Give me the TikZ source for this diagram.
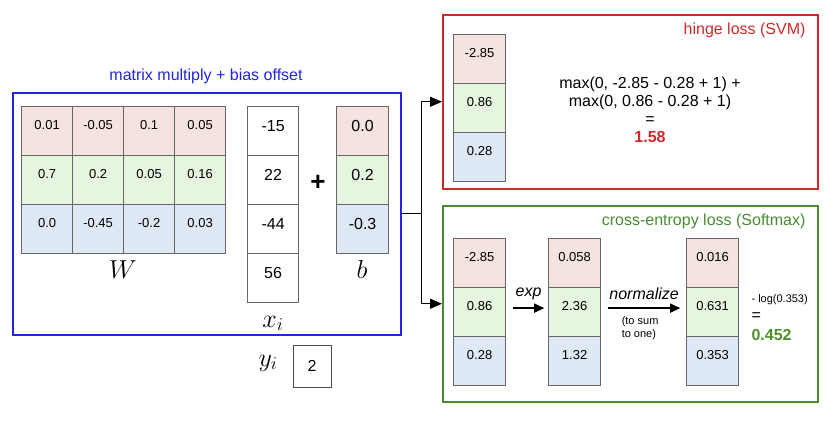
\RequirePackage{fix-cm}
\documentclass[tikz,border=0pt]{standalone}
\usepackage{fontspec}
\setmainfont{Liberation Sans}
\usetikzlibrary{matrix,positioning,arrows.meta}

\definecolor{rowred}{HTML}{F4E3DE}
\definecolor{rowgreen}{HTML}{E6F5DF}
\definecolor{rowblue}{HTML}{DFE8F5}
\definecolor{bluef}{HTML}{2424E0}
\definecolor{redf}{HTML}{CC2A2A}
\definecolor{greenf}{HTML}{4A8A34}
\definecolor{greent}{HTML}{4E8F2A}

\tikzset{
  cell/.style={draw=black!60, line width=0.8pt, minimum width=51pt, inner sep=0pt,
    text height=23pt, text depth=26pt, font=\fontsize{13}{13}\selectfont},
  bigcell/.style={cell, text height=25pt, text depth=24pt, font=\fontsize{16}{16}\selectfont},
  column/.style={matrix of nodes, inner sep=0pt, anchor=north west,
    row sep=-0.8pt, column sep=-0.8pt, nodes={cell}},
  colored/.style={row 1/.style={nodes={fill=rowred}},
    row 2/.style={nodes={fill=rowgreen}},
    row 3/.style={nodes={fill=rowblue}}},
  frame/.style={draw=#1, line width=1.5pt, anchor=north west, inner sep=0pt},
  txt/.style={font=\fontsize{16}{18}\selectfont},
  ittxt/.style={font=\fontsize{16}{18}\itshape},
  smalltxt/.style={font=\fontsize{11}{13}\selectfont},
  mathlabel/.style={anchor=base, font=\fontsize{26}{26}\selectfont},
  arrow/.style={-{Triangle[length=12pt,width=10pt]}, line width=1.4pt},
  oparrow/.style={-{Triangle[length=10pt,width=9pt]}, line width=1.7pt}
}

\begin{document}
\begin{tikzpicture}[x=1pt, y={(0,-1pt)}]
  \useasboundingbox (0,0) rectangle (829,429);

  % frames
  \node[frame=bluef, minimum width=388pt, minimum height=242pt] (mm) at (12,92) {};
  \node[frame=redf, minimum width=375pt, minimum height=174pt] (hinge) at (442,14) {};
  \node[frame=greenf, minimum width=375pt, minimum height=196pt] (softmax) at (442,205) {};
  \node[txt, text=bluef] (mmtitle) at (206,76) {matrix multiply + bias offset};
  \node[txt, text=redf, anchor=east] (hingetitle) at (809,30) {hinge loss (SVM)};
  \node[txt, text=greenf, anchor=east] (softtitle) at (809,221) {cross-entropy loss (Softmax)};

  % score function
  \matrix[column, colored] (W) at (21,106) {
    0.01 & -0.05 & 0.1  & 0.05 \\
    0.7  & 0.2   & 0.05 & 0.16 \\
    0.0  & -0.45 & -0.2 & 0.03 \\
  };
  \matrix[column, nodes={bigcell}] (x) at (247,106) {
    -15 \\ 22 \\ -44 \\ 56 \\
  };
  \matrix[column, colored, nodes={bigcell, minimum width=52pt}] (b) at (336,106) {
    0.0 \\ 0.2 \\ -0.3 \\
  };
  \node[font=\fontsize{26}{26}\bfseries] (plus) at (318,183) {+};
  \node[mathlabel] (Wlabel) at (123,278) {$W$};
  \node[mathlabel] (xlabel) at (273,327) {$x_i$};
  \node[mathlabel] (blabel) at (362,278) {$b$};
  \node[mathlabel] (ylabel) at (268,366) {$y_i$};
  \node[draw=black!70, line width=0.8pt, minimum width=38pt, minimum height=42pt,
    font=\fontsize{16}{16}\selectfont] (yval) at (312,366) {2};

  % split to the two losses
  \draw[line width=1.4pt] (mm.east) -- ++(20,0) coordinate (split);
  \draw[arrow] (split) |- (hinge.west);
  \draw[arrow] (split) |- (softmax.west);

  % hinge loss
  \matrix[column, colored, nodes={minimum width=52pt}] (s1) at (453,34) {
    -2.85 \\ 0.86 \\ 0.28 \\
  };
  \node[txt, align=center] (hingecalc) at (650,110)
    {max(0, -2.85 - 0.28 + 1) +\\max(0, 0.86 - 0.28 + 1)\\=\\
     \textcolor{redf}{\bfseries 1.58}};

  % softmax loss
  \matrix[column, colored, nodes={minimum width=52pt}] (s2) at (453,238) {
    -2.85 \\ 0.86 \\ 0.28 \\
  };
  \matrix[column, colored, nodes={minimum width=52pt}] (e) at (548,238) {
    0.058 \\ 2.36 \\ 1.32 \\
  };
  \matrix[column, colored, nodes={minimum width=52pt}] (p) at (686,238) {
    0.016 \\ 0.631 \\ 0.353 \\
  };
  \draw[oparrow] ([xshift=7pt,yshift=4pt]s2-2-1.east) --
    node[above=4pt, ittxt] (exptxt) {exp}
    ([xshift=-4pt,yshift=4pt]e-2-1.west);
  \draw[oparrow] ([xshift=7pt,yshift=4pt]e-2-1.east) --
    node[above=4pt, ittxt] (normtxt) {normalize}
    node[below=4pt, smalltxt, align=left, xshift=-4pt] (sumtxt) {(to sum\\to one)}
    ([xshift=-6pt,yshift=4pt]p-2-1.west);
  \node[smalltxt, anchor=west] (logtxt) at (748,300) {- log(0.353)};
  \node[txt, anchor=west] (eqtxt) at (748,317) {=};
  \node[txt, anchor=west, text=greent, font=\fontsize{16}{18}\bfseries] (losstxt) at (748,335) {0.452};
\end{tikzpicture}
\end{document}
